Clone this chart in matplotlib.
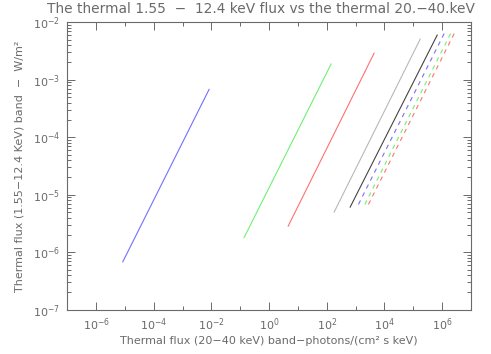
import matplotlib
matplotlib.use('Agg')
import matplotlib.pyplot as plt
from matplotlib.ticker import FixedLocator, LogLocator, NullFormatter

# line end points (x: 20-40 keV photon flux, y: 1.55-12.4 keV energy flux)
blue_x = [8.4e-6, 8.3e-3]
blue_y = [6.8e-7, 6.8e-4]
green_x = [0.136, 142.0]
green_y = [1.8e-6, 1.88e-3]
red_x = [4.6, 4.4e3]
red_y = [2.85e-6, 2.9e-3]
gray_x = [181.0, 1.75e5]
gray_y = [5.0e-6, 5.1e-3]
black_x = [650.0, 6.8e5]
black_y = [6.1e-6, 6.0e-3]
dash_blue_x = [1.26e3, 1.19e6]
dash_green_x = [2.1e3, 2.0e6]
dash_red_x = [2.8e3, 2.65e6]
dash_y = [6.8e-6, 6.4e-3]

x_major = [1e-6, 1e-4, 1e-2, 1e0, 1e2, 1e4, 1e6]
x_minor = [1e-7, 1e-5, 1e-3, 1e-1, 1e1, 1e3, 1e5, 1e7]
x_labels = ['$10^{-6}$', '$10^{-4}$', '$10^{-2}$', '$10^{0}$', '$10^{2}$', '$10^{4}$', '$10^{6}$']
y_major = [1e-7, 1e-6, 1e-5, 1e-4, 1e-3, 1e-2]
y_labels = ['$10^{-7}$', '$10^{-6}$', '$10^{-5}$', '$10^{-4}$', '$10^{-3}$', '$10^{-2}$']

fg = '#6a6a6a'

fig = plt.figure(figsize=(4.91, 3.54), dpi=100)
ax = fig.add_axes([0.137, 0.125, 0.822, 0.812])

lw = 0.8
ax.plot(blue_x, blue_y, color='#7070ff', lw=lw)
ax.plot(green_x, green_y, color='#70f070', lw=lw)
ax.plot(red_x, red_y, color='#ff7070', lw=lw)
ax.plot(gray_x, gray_y, color='#b8b8b8', lw=lw)
ax.plot(black_x, black_y, color='#444444', lw=lw)
ax.plot(dash_blue_x, dash_y, color='#7070ff', lw=lw, dashes=(4, 4))
ax.plot(dash_green_x, dash_y, color='#70f070', lw=lw, dashes=(4, 4))
ax.plot(dash_red_x, dash_y, color='#ff7070', lw=lw, dashes=(4, 4))

ax.set_xscale('log')
ax.set_yscale('log')
ax.set_xlim(1e-7, 1e7)
ax.set_ylim(1e-7, 1e-2)

ax.xaxis.set_major_locator(FixedLocator(x_major))
ax.xaxis.set_minor_locator(FixedLocator(x_minor))
ax.set_xticklabels(x_labels)
ax.xaxis.set_minor_formatter(NullFormatter())
ax.yaxis.set_major_locator(FixedLocator(y_major))
ax.set_yticklabels(y_labels)
ax.yaxis.set_minor_locator(LogLocator(base=10, subs=range(2, 10), numticks=20))
ax.yaxis.set_minor_formatter(NullFormatter())

ax.tick_params(which='both', direction='in', top=True, right=True,
               color=fg, labelcolor=fg, labelsize=8, width=0.7)
ax.tick_params(which='major', length=6, pad=5)
ax.tick_params(which='minor', length=3)
for s in ax.spines.values():
    s.set_color(fg)
    s.set_linewidth(0.8)

ax.set_xlabel('Thermal flux (20\u221240 keV) band\u2212photons/(cm\u00b2 s keV)',
              color=fg, fontsize=8, labelpad=2)
ax.set_ylabel('Thermal flux (1.55\u221212.4 KeV) band  \u2212  W/m\u00b2',
              color=fg, fontsize=8, labelpad=6)
fig.text(0.532, 0.974, 'The thermal 1.55  \u2212  12.4 keV flux vs the thermal 20.\u221240.keV',
         ha='center', va='center', color=fg, fontsize=9.9)

fig.savefig('out.png', dpi=100)
